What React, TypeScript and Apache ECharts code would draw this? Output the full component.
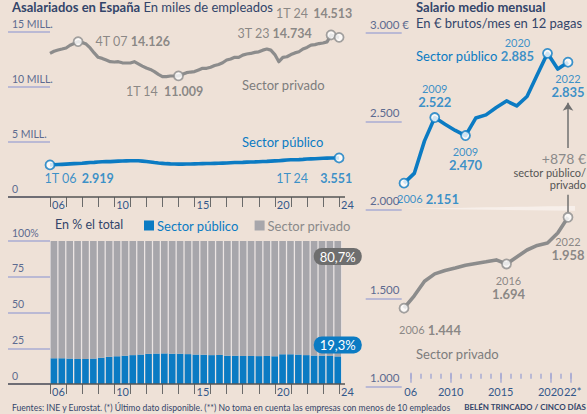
import React, { useEffect, useRef } from 'react';
import * as echarts from 'echarts';

const FONT = 'Lato, "Open Sans", sans-serif';
const BG = '#eee1d7';
const LIGHT = '#f7efea';
const BLUE = '#0b7bc3';
const GREY = '#8c8c8c';
const LABEL_GREY = '#707070';
const BAR_GREY = '#a7a6ab';
const NAVY = '#33456a';
const AXIS_TXT = '#5d6b90';
const TICK_TXT = '#35588a';
const TICK_LINE = '#a8abd3';

// ---------- Asalariados (millones), trimestral 1T 2006 – 1T 2024 ----------
const privateQ = [
  13.06, 13.25, 13.36, 13.45, 13.55, 13.8, 13.95, 14.126,
  14.05, 13.9, 13.55, 13.1, 12.7, 12.6, 12.45, 12.3,
  12.27, 12.3, 12.2, 12.18, 12.18, 12.3, 12.1, 11.9,
  11.73, 11.6, 11.4, 11.15, 10.95, 10.95, 11.0, 11.0,
  11.009, 11.15, 11.3, 11.36, 11.4, 11.55, 11.7, 11.7,
  11.8, 11.95, 12.05, 12.2, 12.45, 12.55, 12.7, 12.7,
  12.9, 13.0, 13.05, 13.15, 13.2, 13.35, 13.45, 13.35,
  12.95, 12.3, 12.7, 12.75, 12.95, 13.1, 13.2, 13.45,
  13.6, 13.8, 13.85, 13.95, 14.0, 14.1, 14.734, 14.6,
  14.513,
];
const publicQ = [
  2.919, 2.93, 2.95, 2.97, 2.99, 3.01, 3.03, 3.05,
  3.07, 3.1, 3.13, 3.15, 3.18, 3.2, 3.22, 3.22,
  3.24, 3.26, 3.27, 3.28, 3.29, 3.3, 3.29, 3.26,
  3.22, 3.18, 3.13, 3.09, 3.06, 3.03, 3.01, 3.0,
  2.99, 2.99, 3.0, 3.0, 3.01, 3.02, 3.03, 3.04,
  3.05, 3.06, 3.07, 3.08, 3.09, 3.11, 3.13, 3.14,
  3.15, 3.17, 3.18, 3.19, 3.21, 3.23, 3.24, 3.26,
  3.28, 3.3, 3.33, 3.36, 3.38, 3.39, 3.4, 3.42,
  3.45, 3.47, 3.48, 3.5, 3.52, 3.53, 3.54, 3.55,
  3.551,
];
const privQMarkIdx = [7, 32, 70, 72];
const privQMarkPeriod = ['4T 07', '1T 14', '3T 23', '1T 24'];
const privQMarkValue = ['14.126', '11.009', '14.734', '14.513'];
const pubQMarkIdx = [0, 72];
const pubQMarkPeriod = ['1T 06', '1T 24'];
const pubQMarkValue = ['2.919', '3.551'];
const yearTickLabels: Record<number, string> = { 2006: '06', 2010: '10', 2015: '15', 2020: '20', 2024: '24' };

// ---------- % del total, semestral 2006 – 2024 ----------
const publicPct = [
  18.0, 18.0, 17.8, 17.5, 17.5, 17.8, 18.4, 19.0, 19.4, 19.8,
  20.2, 20.6, 21.1, 21.3, 21.4, 21.2, 21.2, 20.9, 20.6, 20.5,
  20.2, 20.3, 19.8, 19.8, 19.6, 19.6, 19.5, 19.6, 19.4, 20.8,
  20.8, 20.6, 20.2, 19.9, 19.8, 19.6, 19.3,
];
const pctBadges = ['19,3%', '80,7%'];

// ---------- Salario medio mensual (€), anual 2006 – 2022 ----------
const salaryYears = [2006, 2007, 2008, 2009, 2010, 2011, 2012, 2013, 2014, 2015, 2016, 2017, 2018, 2019, 2020, 2021, 2022];
const publicSalary = [2151, 2206, 2390, 2522, 2484, 2449, 2420, 2519, 2537, 2579, 2616, 2588, 2641, 2764, 2885, 2796, 2835];
const privateSalary = [1444, 1514, 1596, 1638, 1657, 1671, 1687, 1697, 1706, 1717, 1694, 1733, 1773, 1799, 1813, 1869, 1958];
const pubSalMarkIdx = [0, 3, 6, 14, 16];
const pubSalMarkYear = ['2006', '2009', '2009', '2020', '2022'];
const pubSalMarkValue = ['2.151', '2.522', '2.470', '2.885', '2.835'];
const privSalMarkIdx = [0, 10, 16];
const privSalMarkYear = ['2006', '2016', '2022'];
const privSalMarkValue = ['1.444', '1.694', '1.958'];
const salaryMajorTicks = [2006, 2010, 2015, 2020, 2022];
const salaryMainLabels = [2006, 2010, 2015, 2020];
const salaryLastLabel = [2022];
const salaryTickLabels: Record<number, string> = { 2006: '06', 2010: '2010', 2015: '2015', 2020: '2020', 2022: '22*' };
const gapText = ['+878 €', 'sector público/', 'privado'];

// ---------- layout helpers (style only) ----------
const qTime = (i: number) => 2006 + i / 4;
const LEFT_XMAX = 2006 + 291.7 / 16.06;
const privQLayout = [
  { position: 'right', distance: 12, offset: [0, 0], gap: 3 },
  { position: 'bottom', distance: 4, offset: [-14, 0], gap: 6 },
  { position: 'left', distance: 14, offset: [0, -1], gap: 3 },
  { position: 'top', distance: 12, offset: [-25, 0], gap: 5 },
];
const pubQLayout = [
  { position: 'bottom', distance: 2, offset: [29, 0], gap: 5 },
  { position: 'bottom', distance: 9, offset: [-25, 0], gap: 12 },
];
const pubSalLayout = [
  { position: 'bottom', distance: 3, offset: [24, 0], one: true },
  { position: 'top', distance: 3, offset: [0, 0], one: false },
  { position: 'bottom', distance: 4, offset: [0, 0], one: false },
  { position: 'left', distance: 8, offset: [0, -4], one: false },
  { position: 'bottom', distance: 4, offset: [0, 0], one: false },
];
const privSalLayout = [
  { position: 'bottom', distance: 9, offset: [26, 0], one: true },
  { position: 'bottom', distance: 5, offset: [2, 0], one: false },
  { position: 'bottom', distance: 12, offset: [0, 0], one: false },
];

const thousands = (v: number) => {
  const s = String(v);
  return s.length > 3 ? s.slice(0, s.length - 3) + '.' + s.slice(s.length - 3) : s;
};

function quarterMarks(idx: number[], period: string[], value: string[], layout: any[], values: number[], color: string) {
  return idx.map((i, k) => ({
    value: [qTime(i), values[i]],
    label: {
      show: true,
      position: layout[k].position,
      distance: layout[k].distance,
      offset: layout[k].offset,
      formatter: `{p|${period[k]}}{v|${value[k]}}`,
      rich: {
        p: { fontFamily: FONT, fontSize: 12.5, color },
        v: { fontFamily: FONT, fontSize: 12.5, fontWeight: 'bold', color, padding: [0, 0, 0, layout[k].gap] },
      },
    },
  }));
}

function salaryMarks(idx: number[], yrs: string[], value: string[], layout: any[], values: number[], color: string) {
  return idx.map((i, k) => {
    const isLeft = layout[k].position === 'left';
    return {
      value: [salaryYears[i], values[i]],
      label: {
        show: true,
        position: layout[k].position,
        distance: layout[k].distance,
        offset: layout[k].offset,
        ...(isLeft ? {} : { align: 'center' }),
        formatter: layout[k].one ? `{y|${yrs[k]}} {v|${value[k]}}` : `{y|${yrs[k]}}\n{v|${value[k]}}`,
        rich: {
          y: { fontFamily: FONT, fontSize: 11, color, lineHeight: 13, align: 'center' },
          v: { fontFamily: FONT, fontSize: 13, fontWeight: 'bold', color, lineHeight: 14, align: 'center' },
        },
      },
    };
  });
}

const leftYAxisBase = {
  axisLine: { show: false },
  axisTick: { show: true, length: 42, lineStyle: { color: TICK_LINE, width: 1.5 } },
  splitLine: { show: false },
};
const leftYLabel = {
  align: 'left',
  margin: 38,
  verticalAlign: 'bottom',
  padding: [0, 0, 3, 0],
  color: AXIS_TXT,
  fontFamily: FONT,
  fontSize: 10.5,
};
const yearXAxis = (gridIndex: number) => ({
  type: 'value',
  gridIndex,
  position: 'bottom',
  min: 2006,
  max: LEFT_XMAX,
  interval: 1,
  axisLine: { show: false },
  axisTick: { show: true, length: 10, lineStyle: { color: '#6a6a6a', width: 1 } },
  splitLine: { show: false },
  axisLabel: {
    showMinLabel: true,
    showMaxLabel: false,
    align: 'left',
    margin: 2,
    padding: [0, 0, 0, 2],
    color: TICK_TXT,
    fontFamily: FONT,
    fontSize: 11,
    formatter: (v: number) => yearTickLabels[v] ?? '',
  },
});
const salaryLabelStyle = {
  show: true, color: TICK_TXT, fontFamily: FONT, fontSize: 11,
  formatter: (v: number) => salaryTickLabels[Math.round(v)] ?? '',
};

const barPeriods = publicPct.map((_, i) => `${2006 + Math.floor(i / 2)}-S${(i % 2) + 1}`);
const lastBar = publicPct.length - 1;
const SAL_TICK_MIN = 2006 - 6.7 / 10;

const option: any = {
  animation: false,
  backgroundColor: BG,
  textStyle: { fontFamily: FONT },
  legend: {
    left: 144,
    top: 219,
    padding: 0,
    icon: 'rect',
    itemWidth: 10,
    itemHeight: 10,
    itemGap: 16,
    selectedMode: false,
    data: [
      { name: 'Sector público', textStyle: { color: BLUE } },
      { name: 'Sector privado', textStyle: { color: '#8a8a8a' } },
    ],
    textStyle: { fontFamily: FONT, fontSize: 13, padding: [0, 0, 0, -2] },
  },
  grid: [
    { left: 50, top: 32, width: 291.7, height: 165 },
    { left: 50, top: 241, width: 291.7, height: 143, show: true, backgroundColor: '#ebe5e4', borderWidth: 0 },
    { left: 404, top: 33, width: 170, height: 353.7 },
  ],
  xAxis: [
    yearXAxis(0),
    { type: 'category', gridIndex: 1, position: 'bottom', data: barPeriods, show: false },
    yearXAxis(1),
    { type: 'value', gridIndex: 2, position: 'bottom', min: 2006, max: 2006 + 170 / 10.25, show: false, splitLine: { show: false } },
    {
      type: 'value', gridIndex: 2, position: 'bottom', min: SAL_TICK_MIN, max: SAL_TICK_MIN + 17, offset: -8,
      axisLine: { show: false }, splitLine: { show: false },
      axisTick: { show: true, inside: true, length: 5, customValues: salaryYears, lineStyle: { color: TICK_LINE, width: 1.5 } },
      axisLabel: { ...salaryLabelStyle, margin: 7, padding: [0, 0, 0, 4], customValues: salaryLastLabel },
    },
    {
      type: 'value', gridIndex: 2, position: 'bottom', min: SAL_TICK_MIN, max: SAL_TICK_MIN + 17, offset: -4,
      axisLine: { show: false }, splitLine: { show: false },
      axisTick: { show: true, inside: true, length: 10, customValues: salaryMajorTicks, lineStyle: { color: TICK_LINE, width: 1.5 } },
      axisLabel: { ...salaryLabelStyle, margin: 3, customValues: salaryMainLabels },
    },
  ],
  yAxis: [
    {
      type: 'value', gridIndex: 0, min: 0, max: 15, interval: 5, ...leftYAxisBase,
      axisLabel: { ...leftYLabel, formatter: (v: number) => (v === 0 ? '0' : `${v} MILL.`) },
    },
    {
      type: 'value', gridIndex: 1, min: 0, max: 100, interval: 25, ...leftYAxisBase,
      axisLabel: { ...leftYLabel, formatter: (v: number) => (v === 100 ? '100%' : `${v}`) },
    },
    {
      type: 'value', gridIndex: 2, min: 1000, max: 3000, interval: 500, offset: 2.3,
      axisLine: { show: false }, splitLine: { show: false },
      axisTick: { show: true, length: 36, lineStyle: { color: TICK_LINE, width: 1.5 } },
      axisLabel: {
        ...leftYLabel, margin: 31.7, padding: [0, 0, 3, 0], fontSize: 11.5,
        formatter: (v: number) => (v === 3000 ? '3.000 €' : thousands(v)),
      },
    },
  ],
  series: [
    // --- top-left lines ---
    {
      type: 'line', name: 'privQ', xAxisIndex: 0, yAxisIndex: 0, symbol: 'none', z: 3,
      data: privateQ.map((v, i) => [qTime(i), v]),
      lineStyle: { color: GREY, width: 3.2, join: 'round' },
    },
    {
      type: 'line', name: 'pubQ', xAxisIndex: 0, yAxisIndex: 0, symbol: 'none', z: 3,
      data: publicQ.map((v, i) => [qTime(i), v]),
      lineStyle: { color: BLUE, width: 3.6, join: 'round' },
    },
    {
      type: 'scatter', xAxisIndex: 0, yAxisIndex: 0, symbolSize: 9, z: 5,
      itemStyle: { color: '#fff', borderColor: GREY, borderWidth: 1.8 },
      data: quarterMarks(privQMarkIdx, privQMarkPeriod, privQMarkValue, privQLayout, privateQ, LABEL_GREY),
    },
    {
      type: 'scatter', xAxisIndex: 0, yAxisIndex: 0, symbolSize: 9, z: 5,
      itemStyle: { color: '#fff', borderColor: BLUE, borderWidth: 1.8 },
      data: quarterMarks(pubQMarkIdx, pubQMarkPeriod, pubQMarkValue, pubQLayout, publicQ, BLUE),
    },
    // --- bars ---
    {
      type: 'bar', name: 'Sector público', stack: 'pct', xAxisIndex: 1, yAxisIndex: 1,
      barCategoryGap: '16%', itemStyle: { color: BLUE },
      data: publicPct.map((v, i) => (i === lastBar ? {
        value: v,
        label: {
          show: true, position: 'top', distance: 3, formatter: pctBadges[0],
          backgroundColor: BLUE, color: '#fff', borderRadius: 8, padding: [2, 6, 2, 6],
          fontFamily: FONT, fontSize: 13,
        },
      } : v)),
    },
    {
      type: 'bar', name: 'Sector privado', stack: 'pct', xAxisIndex: 1, yAxisIndex: 1,
      barCategoryGap: '16%', itemStyle: { color: BAR_GREY },
      data: publicPct.map((v, i) => {
        const p = Math.round((100 - v) * 10) / 10;
        return i === lastBar ? {
          value: p,
          label: {
            show: true, position: 'insideTop', distance: 7, formatter: pctBadges[1],
            backgroundColor: '#6e6e6e', color: '#fff', borderRadius: 8, padding: [2, 6, 2, 6],
            fontFamily: FONT, fontSize: 13,
          },
        } : p;
      }),
    },
    // --- right chart ---
    {
      type: 'line', name: 'gapBase', stack: 'gap', xAxisIndex: 3, yAxisIndex: 2, symbol: 'none', silent: true,
      data: privateSalary.map((v, i) => [salaryYears[i], v]),
      lineStyle: { opacity: 0 },
    },
    {
      type: 'line', name: 'gapArea', stack: 'gap', xAxisIndex: 3, yAxisIndex: 2, symbol: 'none', silent: true,
      data: publicSalary.map((v, i) => [salaryYears[i], v - privateSalary[i]]),
      lineStyle: { opacity: 0 },
      areaStyle: { color: LIGHT, opacity: 1 },
    },
    {
      type: 'line', name: 'pubSal', xAxisIndex: 3, yAxisIndex: 2, symbol: 'none', z: 3,
      data: publicSalary.map((v, i) => [salaryYears[i], v]),
      lineStyle: { color: BLUE, width: 3.6, join: 'round' },
      markLine: {
        silent: true,
        label: { show: false },
        lineStyle: { color: '#707070', width: 1.5, type: 'solid' },
        symbolSize: 8,
        data: [
          [{ coord: [2022, 2605], symbol: 'arrow' }, { coord: [2022, 2350], symbol: 'none' }],
          [{ coord: [2022, 2085], symbol: 'none' }, { coord: [2022, 1985], symbol: 'none' }],
        ],
      },
    },
    {
      type: 'line', name: 'privSal', xAxisIndex: 3, yAxisIndex: 2, symbol: 'none', z: 3,
      data: privateSalary.map((v, i) => [salaryYears[i], v]),
      lineStyle: { color: GREY, width: 3.6, join: 'round' },
    },
    {
      type: 'scatter', xAxisIndex: 3, yAxisIndex: 2, symbolSize: 9, z: 5,
      itemStyle: { color: '#fff', borderColor: BLUE, borderWidth: 1.8 },
      data: salaryMarks(pubSalMarkIdx, pubSalMarkYear, pubSalMarkValue, pubSalLayout, publicSalary, BLUE),
    },
    {
      type: 'scatter', xAxisIndex: 3, yAxisIndex: 2, symbolSize: 9, z: 5,
      itemStyle: { color: '#fff', borderColor: GREY, borderWidth: 1.8 },
      data: salaryMarks(privSalMarkIdx, privSalMarkYear, privSalMarkValue, privSalLayout, privateSalary, LABEL_GREY),
    },
  ],
  graphic: [
    { type: 'line', shape: { x1: 8, y1: 197, x2: 345, y2: 197 }, style: { stroke: '#555', lineWidth: 1.5 }, z: 10 },
    { type: 'line', shape: { x1: 8, y1: 384, x2: 345, y2: 384 }, style: { stroke: '#555', lineWidth: 1.5 }, z: 10 },
    {
      type: 'text', left: 12, top: 0,
      style: {
        text: '{b|Asalariados en España} {n|En miles de empleados}',
        rich: {
          b: { fontFamily: FONT, fontSize: 13, fontWeight: 'bold', fill: NAVY },
          n: { fontFamily: FONT, fontSize: 13, fill: NAVY },
        },
      },
    },
    { type: 'text', left: 416, top: 0, style: { text: 'Salario medio mensual', fontFamily: FONT, fontSize: 13, fontWeight: 'bold', fill: NAVY } },
    { type: 'text', left: 416, top: 16, style: { text: 'En € brutos/mes en 12 pagas', fontFamily: FONT, fontSize: 13, fill: NAVY } },
    { type: 'text', left: 242, top: 78, style: { text: 'Sector privado', fontFamily: FONT, fontSize: 13, fill: '#7d7d7d' } },
    { type: 'text', left: 242, top: 135, style: { text: 'Sector público', fontFamily: FONT, fontSize: 13, fill: BLUE } },
    { type: 'text', left: 55, top: 218, style: { text: 'En % el total', fontFamily: FONT, fontSize: 12.5, fill: NAVY } },
    { type: 'text', left: 416, top: 49, style: { text: 'Sector público', fontFamily: FONT, fontSize: 13, fill: BLUE } },
    { type: 'text', left: 416, top: 347, style: { text: 'Sector privado', fontFamily: FONT, fontSize: 13, fill: '#7d7d7d' } },
    { type: 'text', x: 586, y: 158, style: { text: gapText[0], fontFamily: FONT, fontSize: 14, fill: '#8a8a8a', align: 'right', verticalAlign: 'middle' } },
    { type: 'text', x: 586, y: 172, style: { text: gapText[1], fontFamily: FONT, fontSize: 11, fill: '#555', align: 'right', verticalAlign: 'middle' } },
    { type: 'text', x: 586, y: 184, style: { text: gapText[2], fontFamily: FONT, fontSize: 11, fill: '#555', align: 'right', verticalAlign: 'middle' } },
    {
      type: 'text', left: 12, top: 403,
      style: {
        text: 'Fuentes: INE y Eurostat. (*) Último dato disponible. (**) No toma en cuenta las empresas con menos de 10 empleados',
        fontFamily: FONT, fontSize: 8.6, fill: NAVY,
      },
    },
    { type: 'text', x: 586, y: 403, style: { text: 'BELÉN TRINCADO / CINCO DÍAS', fontFamily: FONT, fontSize: 8, fontWeight: 'bold', fill: NAVY, align: 'right' } },
  ],
};

export default function App() {
  const ref = useRef<HTMLDivElement>(null);
  useEffect(() => {
    const chart = echarts.init(ref.current as HTMLDivElement, null, { renderer: 'svg' });
    chart.setOption(option);
    return () => chart.dispose();
  }, []);
  return (
    <div
      ref={ref}
      style={{ position: 'fixed', left: 0, top: 0, width: 587, height: 414, background: BG }}
    />
  );
}
